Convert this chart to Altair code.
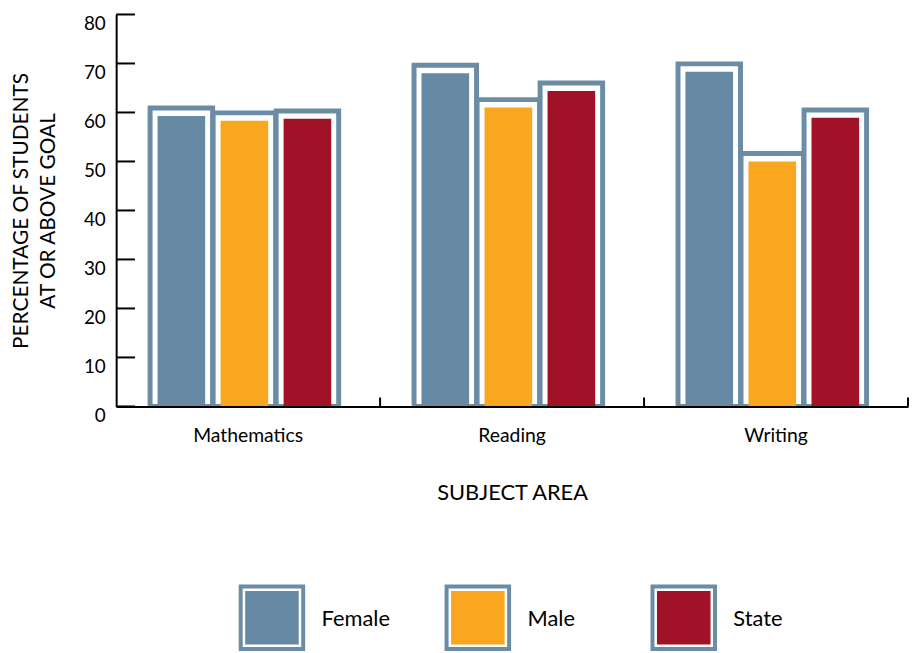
import altair as alt
import pandas as pd

subjects = ["Mathematics", "Reading", "Writing"]
groups = ["Female", "Male", "State"]
female = [59.3, 68.0, 68.3]
male = [58.3, 61.0, 50.0]
state = [58.7, 64.4, 58.9]
y_ticks = [0, 10, 20, 30, 40, 50, 60, 70, 80]

colors = ["#678AA4", "#F8A71E", "#A11229"]
frame_color = "#6B8CA5"
FONT = "Lato"
W, H = 798, 395

rows = []
for i, s in enumerate(subjects):
    for g, vals in zip(groups, [female, male, state]):
        rows.append({"subject": s, "group": g, "value": vals[i]})
df = pd.DataFrame(rows)
tick_df = pd.DataFrame({"t": y_ticks})
subj_df = pd.DataFrame({"subject": subjects})

x_axis = alt.Axis(
    title="SUBJECT AREA", labelAngle=0, ticks=False, domainColor="black", domainWidth=2,
    labelFont=FONT, labelFontSize=19.5, labelColor="black", labelPadding=20,
    titleFont=FONT, titleFontSize=22, titleFontWeight="normal", titleColor="black",
    titlePadding=38, zindex=1,
)
y_axis = alt.Axis(
    title=["PERCENTAGE OF STUDENTS", "AT OR ABOVE GOAL"], values=y_ticks, ticks=False,
    domainColor="black", domainWidth=2, grid=False,
    labelFont=FONT, labelFontSize=19, labelColor="black", labelPadding=11, labelBaseline="top",
    titleFont=FONT, titleFontSize=21, titleFontWeight="normal", titleColor="black",
    titlePadding=25, titleLineHeight=27, zindex=1,
)
x_scale = alt.Scale(paddingInner=0, paddingOuter=0)
y_scale = alt.Scale(domain=[0, 80], nice=False)
xoff = alt.XOffset("group:N", sort=groups, scale=alt.Scale(paddingInner=0, paddingOuter=0.594, align=0.45))

frames = alt.Chart(df).transform_calculate(top="datum.value + 1.62").mark_bar(
    width=63, fill="white", stroke=frame_color, strokeWidth=5, clip=True
).encode(
    x=alt.X("subject:N", sort=subjects, scale=x_scale, axis=x_axis),
    xOffset=xoff,
    y=alt.Y("top:Q", scale=y_scale, axis=y_axis),
)
inner = alt.Chart(df).mark_bar(width=48).encode(
    x=alt.X("subject:N", sort=subjects, scale=x_scale, axis=x_axis),
    xOffset=xoff,
    y=alt.Y("value:Q", scale=y_scale, axis=y_axis),
    color=alt.Color("group:N", sort=groups, scale=alt.Scale(domain=groups, range=colors), legend=None),
)
ytick_rules = alt.Chart(tick_df).mark_rule(color="black", strokeWidth=2).encode(
    y=alt.Y("t:Q", scale=y_scale, axis=y_axis),
    x=alt.value(0), x2=alt.value(19),
)
xtick_rules = alt.Chart(subj_df).mark_rule(color="black", strokeWidth=2).encode(
    x=alt.X("subject:N", sort=subjects, scale=x_scale, axis=x_axis, bandPosition=1),
    y=alt.value(H - 9), y2=alt.value(H),
)
main = alt.layer(frames, inner, ytick_rules, xtick_rules).properties(width=W, height=H)

ldf = pd.DataFrame({"group": groups})
lbase = alt.Chart(ldf).encode(
    x=alt.X("group:N", sort=groups, scale=alt.Scale(type="point", range=[157, 572], padding=0), axis=None),
    y=alt.value(35),
)
lframe = lbase.mark_square(size=3969, fill="white", stroke=frame_color, strokeWidth=4, opacity=1)
linner = lbase.mark_square(size=2916, strokeWidth=0, opacity=1).encode(
    color=alt.Color("group:N", sort=groups, scale=alt.Scale(domain=groups, range=colors), legend=None)
)
ltext = lbase.mark_text(align="left", baseline="middle", dx=50, dy=1, font=FONT, fontSize=22, color="black").encode(
    text="group:N"
)
legend = alt.layer(lframe, linner, ltext).properties(width=780, height=70)

chart = alt.vconcat(main, legend, spacing=75).configure_view(stroke=None).properties(
    padding={"left": 2, "top": 3, "right": 0, "bottom": 0}
)

chart.save("out.html", embed_options={"renderer": "svg", "actions": False})
